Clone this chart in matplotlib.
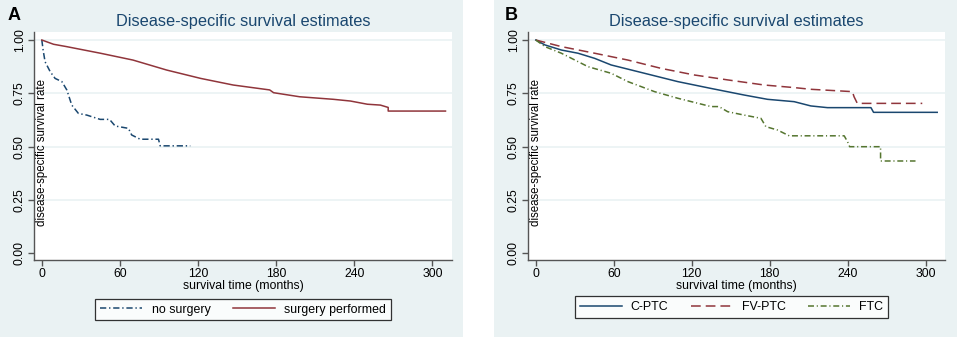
import matplotlib.pyplot as plt
from matplotlib.patches import Rectangle

plt.rcParams['font.family'] = ['Liberation Sans', 'DejaVu Sans']
plt.rcParams['lines.scale_dashes'] = False

# ---- data (repeated times mark visible drops) ----
surg_t = [0, 9, 19, 45, 70, 96, 122, 147, 175, 178, 198, 224, 237, 250, 260, 266, 266, 310]
surg_s = [1.0, 0.980, 0.969, 0.938, 0.906, 0.859, 0.820, 0.789, 0.766, 0.753, 0.734, 0.722,
          0.714, 0.699, 0.695, 0.684, 0.667, 0.667]

nosurg_t = [0, 1, 2.5, 6.4, 10.2, 15.4, 19.2, 23, 28.1, 34.6, 44.8, 52, 56.3, 66.5, 69, 75.5,
            89.6, 90.9, 114]
nosurg_s = [1.0, 0.953, 0.898, 0.852, 0.820, 0.805, 0.766, 0.695, 0.656, 0.648, 0.628, 0.628,
            0.597, 0.586, 0.555, 0.535, 0.535, 0.504, 0.504]

cptc_t = [0, 7, 19.7, 32.5, 45.3, 58, 83.7, 109.3, 134.9, 160.5, 178.4, 198.9, 211.7, 224.5,
          258, 260, 309]
cptc_s = [1.0, 0.977, 0.953, 0.938, 0.914, 0.883, 0.844, 0.805, 0.773, 0.742, 0.722, 0.711,
          0.691, 0.683, 0.683, 0.661, 0.661]

fvptc_t = [0, 19.7, 45.3, 70.9, 96.5, 122.1, 147.7, 175.9, 198.9, 211.7, 232.2, 243.7, 245,
           247.5, 297.5]
fvptc_s = [1.0, 0.969, 0.938, 0.906, 0.867, 0.836, 0.813, 0.789, 0.777, 0.769, 0.762, 0.758,
           0.734, 0.703, 0.703]

ftc_t = [0, 7, 19.7, 40.2, 58, 70.9, 91.4, 109.3, 134.9, 141, 147.7, 160.5, 173.3, 177.1,
         186.1, 195.1, 237.4, 240, 241.6, 265.4, 265.4, 292.3]
ftc_s = [1.0, 0.969, 0.938, 0.875, 0.844, 0.805, 0.758, 0.727, 0.688, 0.688, 0.664, 0.648,
         0.633, 0.594, 0.578, 0.551, 0.551, 0.523, 0.500, 0.500, 0.433, 0.433]

xticks = [0, 60, 120, 180, 240, 300]
yticks = [0.0, 0.25, 0.5, 0.75, 1.0]

W, H = 957, 337
BG = '#eaf2f3'
NAVY = '#1a476f'
MAROON = '#90353b'
GREEN = '#55752f'

fig = plt.figure(figsize=(W / 100, H / 100), dpi=100)
fig.patch.set_facecolor('white')

# panel backgrounds
fig.add_artist(Rectangle((0, 0), 463 / W, 1, transform=fig.transFigure,
                         facecolor=BG, edgecolor='none', zorder=-10))
fig.add_artist(Rectangle((494 / W, 0), (W - 494) / W, 1, transform=fig.transFigure,
                         facecolor=BG, edgecolor='none', zorder=-10))


def make_axes(x0, x1, y0=32, y1=260):
    return fig.add_axes([x0 / W, 1 - y1 / H, (x1 - x0) / W, (y1 - y0) / H])


def style(ax, letter, lx, ly):
    ax.set_xlim(-6, 315)
    ax.set_ylim(-0.031, 1.0375)
    ax.set_facecolor('white')
    for s in ['top', 'right']:
        ax.spines[s].set_visible(False)
    for s in ['left', 'bottom']:
        ax.spines[s].set_color('#555555')
        ax.spines[s].set_linewidth(1.0)
    ax.set_xticks(xticks)
    ax.set_yticks(yticks)
    ax.set_yticklabels(['%.2f' % v for v in yticks], rotation=90, va='center')
    ax.tick_params(axis='both', direction='out', length=4, width=1, color='#555555',
                   labelsize=8.8, pad=2)
    for v in yticks[1:]:
        ax.axhline(v, color=BG, lw=1.2, zorder=0)
    ax.set_xlabel('survival time (months)', fontsize=8.8, labelpad=0)
    ax.text(0.018, 0.47, 'disease-specific survival rate', transform=ax.transAxes,
            rotation=90, ha='center', va='center', fontsize=8.3)
    ax.text(0.5, 1.045, 'Disease-specific survival estimates', transform=ax.transAxes,
            ha='center', va='center', fontsize=11.8, color=NAVY)
    fig.text(lx / W, 1 - ly / H, letter, fontsize=13, fontweight='bold', ha='center',
             va='center')


def add_legend(ax, cx, cy, ncol):
    leg = ax.legend(loc='center', bbox_to_anchor=(cx / W, 1 - cy / H),
                    bbox_transform=fig.transFigure, ncol=ncol, fontsize=8.9, frameon=True,
                    fancybox=False, edgecolor='black', handlelength=3.4, columnspacing=1.8,
                    borderpad=0.4, handletextpad=0.75, borderaxespad=0)
    leg.get_frame().set_linewidth(0.9)
    return leg


# ---- panel A ----
axA = make_axes(34, 452)
style(axA, 'A', 14, 16)
axA.plot(nosurg_t, nosurg_s, color=NAVY, lw=1.1, dashes=(4.5, 2, 1, 2), label='no surgery')
axA.plot(surg_t, surg_s, color=MAROON, lw=1.1, label='surgery performed')
add_legend(axA, 243, 309.5, 2)

# ---- panel B ----
axB = make_axes(528, 945)
style(axB, 'B', 511, 16)
axB.plot(cptc_t, cptc_s, color=NAVY, lw=1.1, label='C-PTC')
axB.plot(fvptc_t, fvptc_s, color=MAROON, lw=1.1, dashes=(7, 3.6), label='FV-PTC')
axB.plot(ftc_t, ftc_s, color=GREEN, lw=1.1, dashes=(4.3, 2, 0.8, 2), label='FTC')
add_legend(axB, 731.5, 307, 3)

fig.savefig('out.png', dpi=100, facecolor='white')
